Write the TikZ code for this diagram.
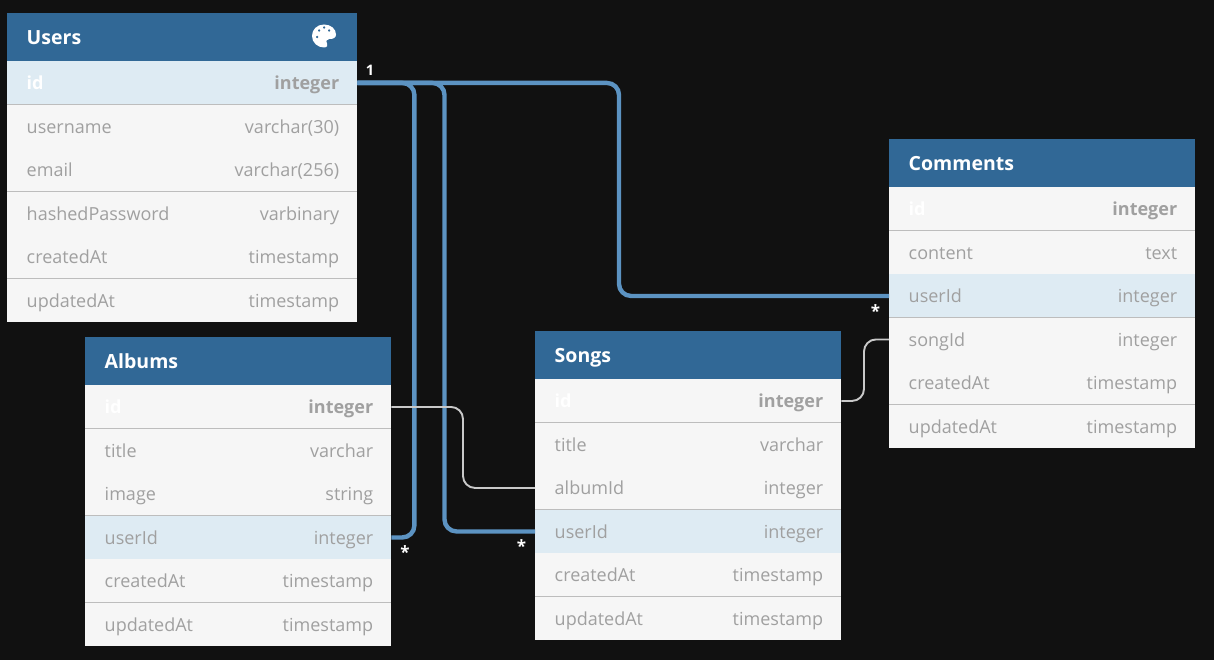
\documentclass[tikz,border=0pt]{standalone}
\usepackage{fontspec}
\setmainfont{Open Sans}
\usetikzlibrary{calc}
\definecolor{bg}{HTML}{111111}
\definecolor{hdr}{HTML}{316896}
\definecolor{rowbg}{HTML}{F6F6F6}
\definecolor{rowhl}{HTML}{DEEBF3}
\definecolor{txt}{HTML}{A0A0A0}
\definecolor{sepd}{HTML}{BDBDBD}
\definecolor{sepl}{HTML}{E6E6E6}
\definecolor{rel}{HTML}{5C93C2}
\definecolor{relw}{HTML}{C9C9C9}
\tikzset{
  x=1pt,y=-1pt,
  hdrbox/.style={fill=hdr,draw=none,inner sep=0pt,anchor=north west,minimum height=48pt},
  rowbox/.style={draw=none,inner sep=0pt,anchor=north west,minimum height=43.5pt},
  hdrtext/.style={text=white,font=\fontsize{19.5}{22}\selectfont\bfseries,inner sep=0pt,anchor=mid west},
  coltext/.style={text=txt,font=\fontsize{18}{22}\selectfont,inner sep=0pt},
  coltextb/.style={text=txt,font=\fontsize{18}{22}\selectfont\bfseries,inner sep=0pt},
  idtext/.style={text=white,font=\fontsize{18}{22}\selectfont\bfseries,inner sep=0pt},
  reltype/.style={text=white,font=\fontsize{14.5}{16}\selectfont\bfseries,inner sep=0pt},
  relstar/.style={text=white,font=\fontsize{17}{18}\selectfont\bfseries,inner sep=0pt},
  thick rel/.style={draw=rel,line width=4.4pt,rounded corners=12pt},
  thin rel/.style={draw=relw,line width=1.9pt,rounded corners=12pt},
}
% #1 id, #2 x, #3 y, #4 width, #5 title, #6 highlighted row, #7 rows
\newcommand\ertable[7]{%
  \node[hdrbox,minimum width=#4pt] (#1) at (#2,#3) {};
  \node[hdrtext] (#1-title) at ($(#1.west)+(19.5,4.5)$) {#5};
  \foreach \rname/\rtype [count=\ri from 0] in {#7} {
    \pgfmathsetmacro\ry{#3+48+43.5*\ri}
    \ifnum\ri=#6\def\rfill{rowhl}\else\def\rfill{rowbg}\fi
    \node[rowbox,fill=\rfill,minimum width=#4pt] (#1-\rname) at (#2,\ry) {};
    \ifnum\ri=0
      \node[idtext,anchor=mid west] (#1-\rname-n) at ($(#1-\rname.west)+(19.5,4)$) {\rname};
      \node[coltextb,anchor=mid east] (#1-\rname-t) at ($(#1-\rname.east)+(-18,4)$) {\rtype};
    \else
      \node[coltext,anchor=mid west] (#1-\rname-n) at ($(#1-\rname.west)+(19.5,4)$) {\rname};
      \node[coltext,anchor=mid east] (#1-\rname-t) at ($(#1-\rname.east)+(-18,4)$) {\rtype};
    \fi
    \ifnum\ri<5
      \pgfmathtruncatemacro\rodd{mod(\ri,2)}
      \ifnum\rodd=0\def\rsep{sepd}\else\def\rsep{sepl}\fi
      \draw[\rsep,line width=1pt] (#1-\rname.south west) -- (#1-\rname.south east);
    \fi
  }
}
\begin{document}
\begin{tikzpicture}
\fill[bg] (0,0) rectangle (1214,660);
\useasboundingbox (0,0) rectangle (1214,660);

\ertable{users}{7}{13}{350}{Users}{0}{id/integer,username/varchar(30),email/varchar(256),hashedPassword/varbinary,createdAt/timestamp,updatedAt/timestamp}
\ertable{albums}{85}{337}{306}{Albums}{3}{id/integer,title/varchar,image/string,userId/integer,createdAt/timestamp,updatedAt/timestamp}
\ertable{songs}{535}{331}{306}{Songs}{3}{id/integer,title/varchar,albumId/integer,userId/integer,createdAt/timestamp,updatedAt/timestamp}
\ertable{comments}{889}{139}{306}{Comments}{2}{id/integer,content/text,userId/integer,songId/integer,createdAt/timestamp,updatedAt/timestamp}

% palette icon
\fill[white,even odd rule]
  (324,24.5) .. controls (317,24.5) and (312,29.5) .. (312,36)
  .. controls (312,42.5) and (317.5,47.5) .. (324,47.5)
  .. controls (327,47.5) and (328,45.5) .. (327,43.5)
  .. controls (325.5,41) and (327,39) .. (329.5,39)
  .. controls (333,39) and (336,38) .. (336,34.5)
  .. controls (336,29) and (331,24.5) .. (324,24.5) -- cycle
  (317,37) circle[radius=1.5]
  (319,30.5) circle[radius=1.5]
  (324,27.5) circle[radius=1.5]
  (329,30.5) circle[radius=1.5];

% relationships
\coordinate (bendA) at ($(albums-userId.east)+(23,0)$);
\coordinate (bendS) at ($(songs-userId.west)+(-90.5,0)$);
\coordinate (bendC) at ($(comments-userId.west)+(-270,0)$);
\coordinate (bendL) at ($(songs-albumId.west)+(-72,0)$);
\coordinate (bendM) at ($(comments-songId.west)+(-25,0)$);
\draw[thick rel] (users-id.east) -- (users-id.east -| bendA) -- (bendA) -- (albums-userId.east);
\draw[thick rel] (users-id.east) -- (users-id.east -| bendS) -- (bendS) -- (songs-userId.west);
\draw[thick rel] (users-id.east) -- (users-id.east -| bendC) -- (bendC) -- (comments-userId.west);
\draw[thin rel] (albums-id.east) -- (albums-id.east -| bendL) -- (bendL) -- (songs-albumId.west);
\draw[thin rel] (songs-id.east) -- (songs-id.east -| bendM) -- (bendM) -- (comments-songId.west);

\node[reltype] (card-1) at (370,70) {1};
\node[relstar] (card-a) at (405,552) {*};
\node[relstar] (card-s) at (521.5,546) {*};
\node[relstar] (card-c) at (875.5,311) {*};
\end{tikzpicture}
\end{document}
